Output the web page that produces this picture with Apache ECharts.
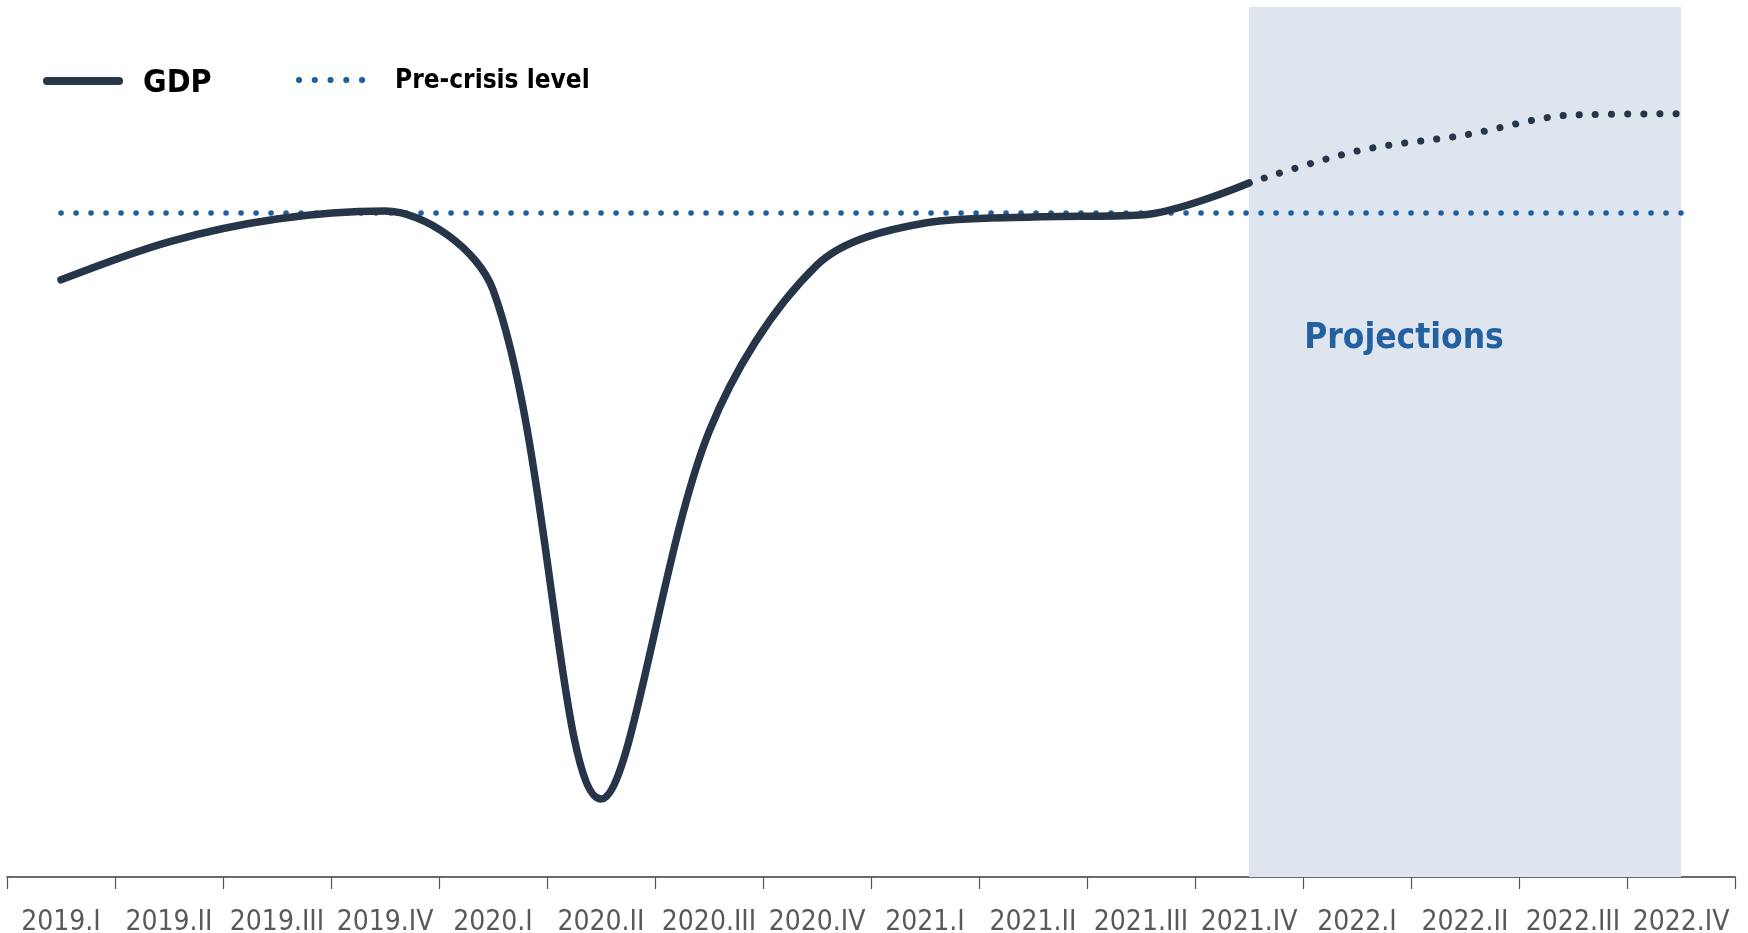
<!DOCTYPE html>
<html>
<head>
<meta charset="utf-8">
<title>GDP and pre-crisis level</title>
<script src="https://cdn.jsdelivr.net/npm/echarts@6/dist/echarts.min.js"></script>
<style>
  html, body { margin: 0; padding: 0; background: #ffffff; }
  #chart { width: 1748px; height: 933px; }
</style>
</head>
<body>
<div id="chart"></div>
<script>
// Quarters on the horizontal axis
const quarters = [
  '2019.I', '2019.II', '2019.III', '2019.IV',
  '2020.I', '2020.II', '2020.III', '2020.IV',
  '2021.I', '2021.II', '2021.III', '2021.IV',
  '2022.I', '2022.II', '2022.III', '2022.IV'
];

// GDP index (pre-crisis level = 100)
const gdp = [
  98.33, 99.28, 99.85, 100.05,
  98.08, 85.35, 94.53, 98.70,
  99.75, 99.90, 99.95, 100.75,
  101.55, 101.95, 102.45, 102.48
];

// Last observed quarter; later quarters are projections
const lastActual = '2021.IV';

// Pre-crisis reference level
const preCrisis = 100;

const FONT = "'DejaVu Sans Condensed', 'Liberation Sans', sans-serif";
const NAVY = '#263648';
const BLUE = '#1F5F9E';

const cut = quarters.indexOf(lastActual);
const actualData = gdp.map((v, i) => (i <= cut ? v : '-'));
const projectedData = gdp.map((v, i) => (i >= cut ? v : '-'));
const preCrisisData = quarters.map(() => preCrisis);

const chart = echarts.init(document.getElementById('chart'), null, { renderer: 'canvas' });

chart.setOption({
  animation: false,
  backgroundColor: '#ffffff',
  grid: { left: 7, right: 13, top: 7, bottom: 56, containLabel: false, outerBoundsMode: 'none' },
  xAxis: {
    type: 'category',
    data: quarters,
    boundaryGap: true,
    axisLine: { show: true, lineStyle: { color: '#3a3a3a', width: 1.5 } },
    axisTick: { show: true, length: 12, inside: false, lineStyle: { color: '#555555', width: 1.2 } },
    axisLabel: {
      interval: 0,
      color: '#595959',
      fontFamily: FONT,
      fontSize: 28,
      margin: 32
    },
    splitLine: { show: false }
  },
  yAxis: {
    type: 'value',
    min: 83.4,
    max: 105.15,
    show: false
  },
  series: [
    {
      // shaded projection window
      name: 'Projection window',
      type: 'line',
      data: [],
      z: 1,
      silent: true,
      markArea: {
        silent: true,
        itemStyle: { color: '#DFE5EE' },
        label: { show: false },
        data: [[{ xAxis: lastActual }, { xAxis: quarters[quarters.length - 1] }]]
      }
    },
    {
      name: 'Pre-crisis level',
      type: 'line',
      data: preCrisisData,
      z: 3,
      symbol: 'none',
      silent: true,
      lineStyle: { color: BLUE, width: 5.5, type: [0.1, 14.9], cap: 'round' }
    },
    {
      name: 'GDP',
      type: 'line',
      data: actualData,
      z: 4,
      smooth: 0.33,
      symbol: 'none',
      silent: true,
      lineStyle: { color: NAVY, width: 7.5, cap: 'round', join: 'round' }
    },
    {
      name: 'GDP projection',
      type: 'line',
      data: projectedData,
      z: 4,
      smooth: 0.33,
      symbol: 'none',
      silent: true,
      lineStyle: { color: NAVY, width: 7, type: [0.1, 16], cap: 'round' }
    }
  ],
  graphic: [
    // legend: GDP
    {
      type: 'line', silent: true, z: 100,
      shape: { x1: 47, y1: 81, x2: 119, y2: 81 },
      style: { stroke: NAVY, lineWidth: 8, lineCap: 'round' }
    },
    {
      type: 'text', silent: true, z: 100, x: 143, y: 84,
      style: { text: 'GDP', fill: '#000000', font: 'bold 32px ' + FONT, textVerticalAlign: 'middle' }
    },
    // legend: pre-crisis level
    {
      type: 'line', silent: true, z: 100,
      shape: { x1: 299, y1: 80, x2: 362.2, y2: 80 },
      style: { stroke: BLUE, lineWidth: 6, lineCap: 'round', lineDash: [0.1, 15.65] }
    },
    {
      type: 'text', silent: true, z: 100, x: 395, y: 81,
      style: { text: 'Pre-crisis level', fill: '#000000', font: 'bold 26px ' + FONT, textVerticalAlign: 'middle' }
    },
    // projection window caption
    {
      type: 'text', silent: true, z: 100, x: 1404, y: 339,
      style: { text: 'Projections', fill: '#2360A0', font: 'bold 35px ' + FONT, textAlign: 'center', textVerticalAlign: 'middle' }
    }
  ]
});
</script>
</body>
</html>
